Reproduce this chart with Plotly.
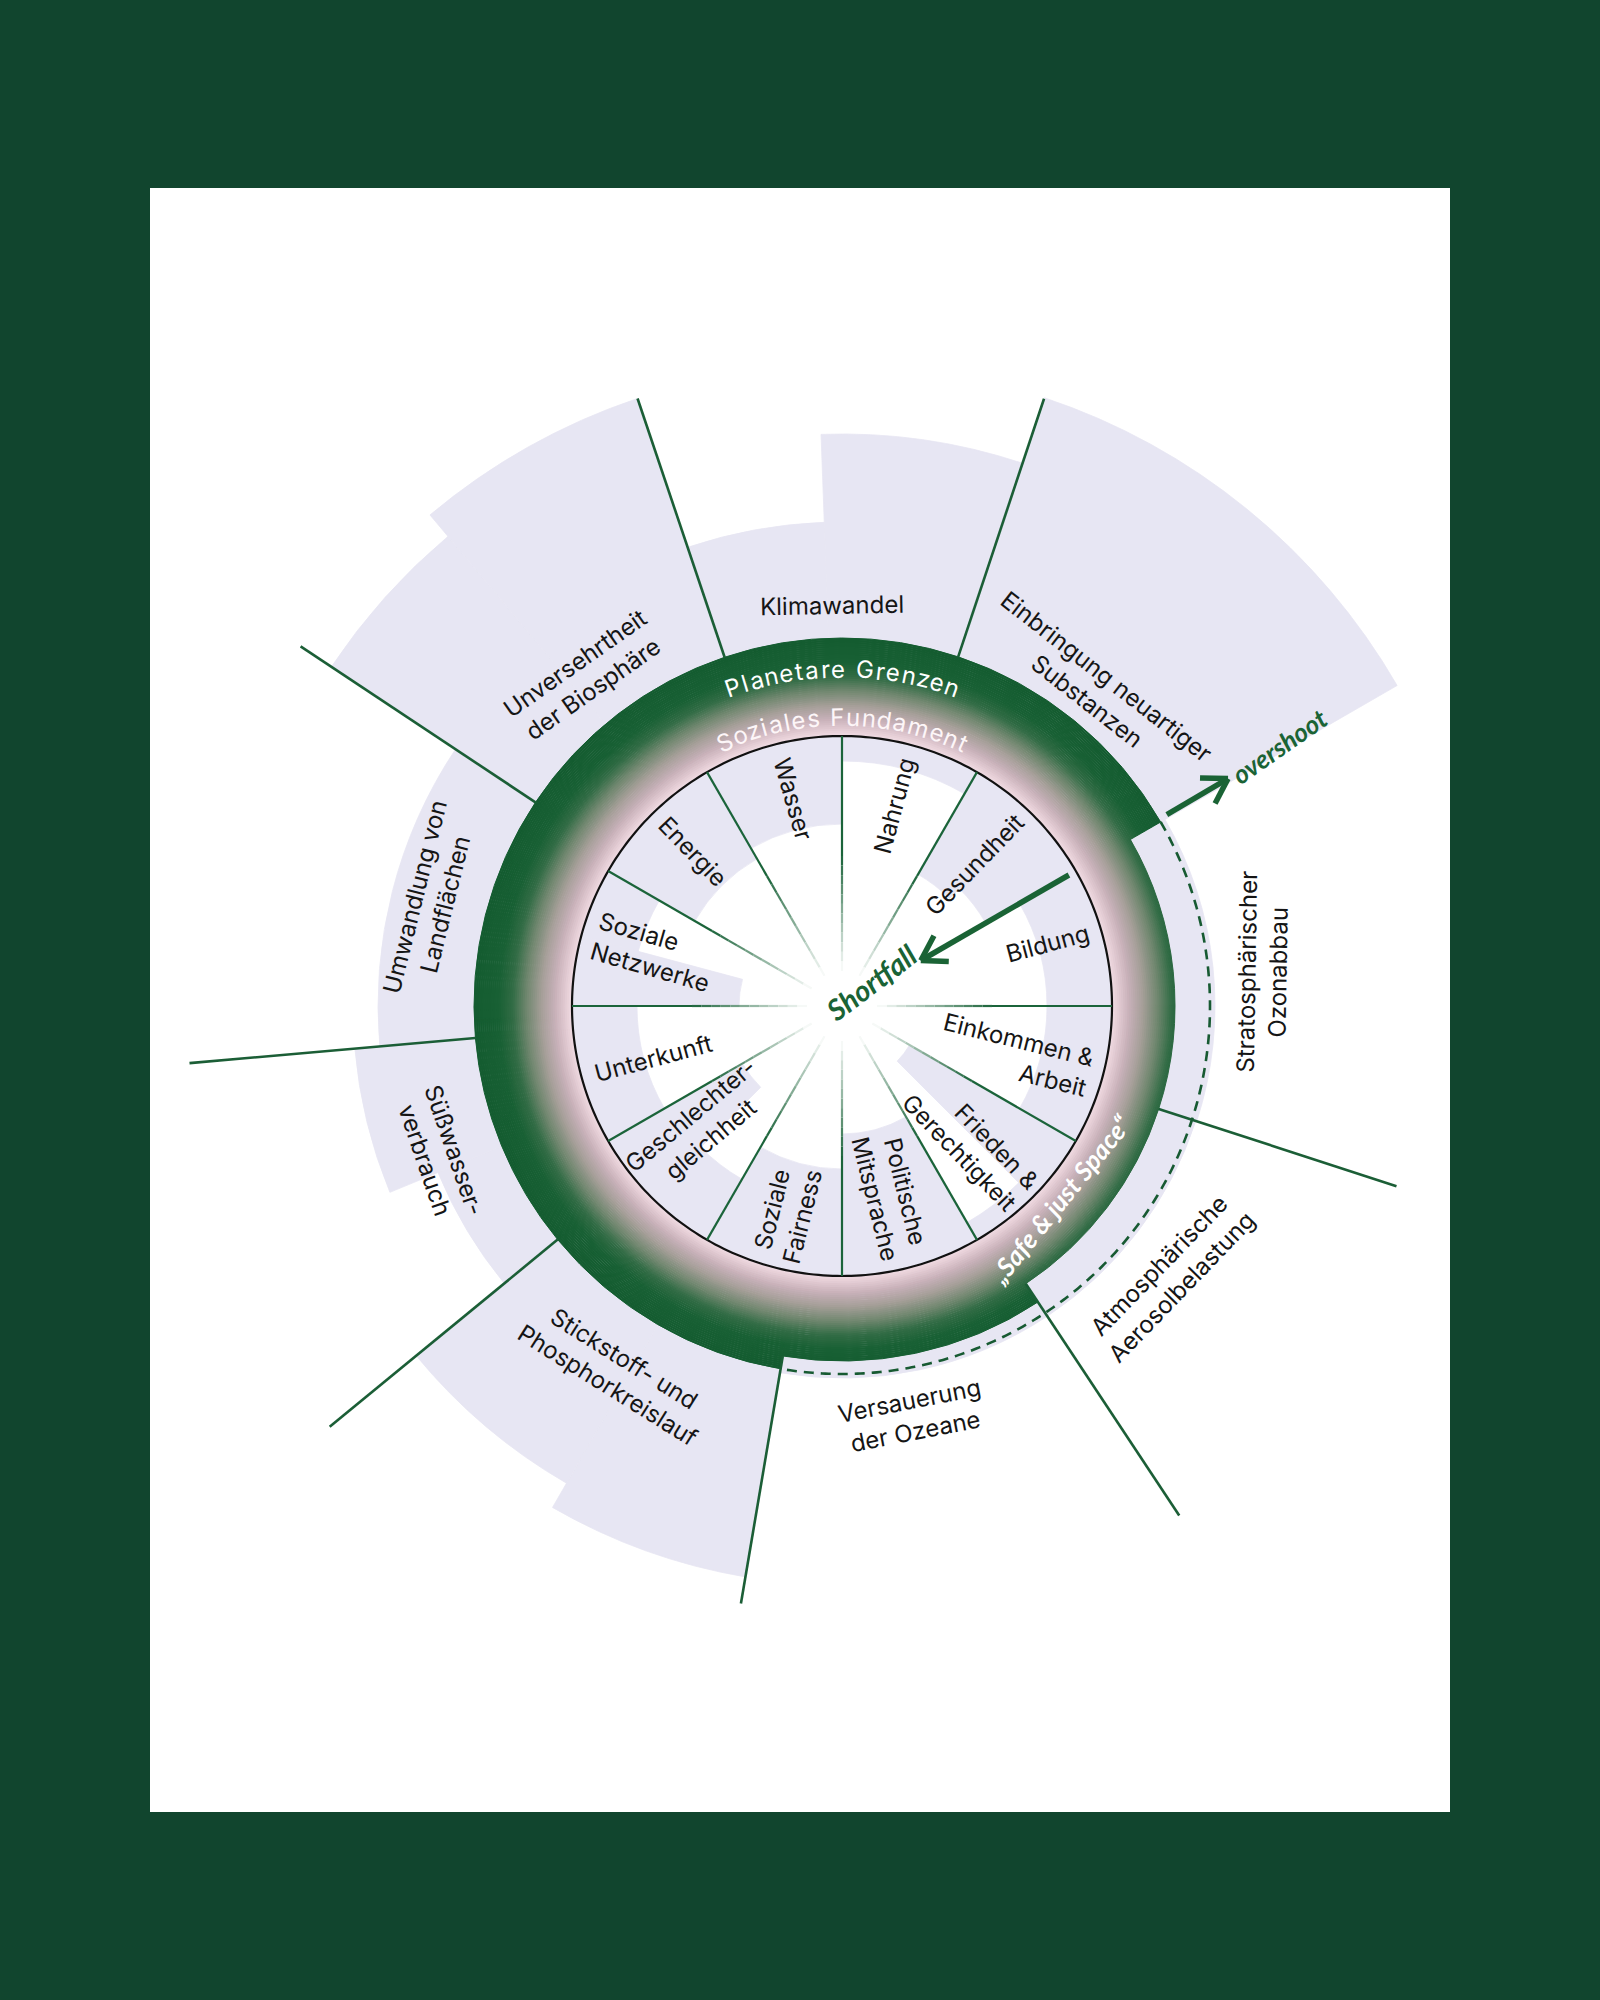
import math
import plotly.graph_objects as go

W, H = 1600, 2000
CX, CY = 842, 1006          # centre of the doughnut (px)
RMAX = 700                  # radial axis range == px radius of polar domain

BG = "#11452e"
LAV = "#e7e6f3"
LINE_GREEN = "#1b5e36"
ARROW_GREEN = "#1a6335"
FONT = "Inter"

# ---------------- data ----------------
# Planetary boundaries: sub-indicator wedges (bearing in degrees, clockwise from north)
pb_start = [-18.6, -2.1, 18.4, 60.0, 108.0, 146.5, 189.6, 210.0, 230.6, 247.6, 265.0, 303.6, 320.0]
pb_end = [-2.1, 18.4, 60.0, 108.0, 146.5, 189.6, 210.0, 230.6, 247.6, 265.0, 303.6, 320.0, 341.4]
pb_value = [484, 572, 641, 373, 372, 372, 579, 551, 437, 489, 464, 613, 641]

# Planetary segments (9 boundaries)
seg_start = [-18.6, 18.4, 60.0, 108.0, 146.5, 189.6, 230.6, 265.0, 303.6]
seg_end = [18.4, 60.0, 108.0, 146.5, 189.6, 230.6, 265.0, 303.6, 341.4]
ring_outer = [368, 368, 333, 333, 355, 368, 368, 368, 368]
pb_labels = ["Klimawandel", "Einbringung neuartiger<br>Substanzen", "Stratosphärischer<br>Ozonabbau",
             "Atmosphärische<br>Aerosolbelastung", "Versauerung<br>der Ozeane",
             "Stickstoff- und<br>Phosphorkreislauf", "Süßwasser-<br>verbrauch",
             "Umwandlung von<br>Landflächen", "Unversehrtheit<br>der Biosphäre"]
pb_label_b = [-1.4, 38.8, 85.4, 129.4, 170.3, 211.7, 249.7, 284.4, 322.0]
pb_label_r = [401, 407, 422, 425, 416, 430, 429, 425, 419]
pb_label_rot = [-1, 38, -89, -46, -11, 32, 71, -76, -35]

# Divider lines between planetary segments
div_b = [-18.6, 18.4, 108.0, 146.5, 189.6, 230.6, 265.0, 303.6]
div_r0 = [368, 368, 333, 333, 355, 368, 368, 368]
div_r1 = [641, 640, 583, 611, 606, 663, 655, 650]

# Boundary (dashed) arc where not overshot
dash_b0, dash_b1, dash_r = 60.0, 189.6, 368

# Social foundation: sub-indicator shortfall wedges (inner radius; foundation at 270)
SOC_R = 270
soc_start = [0, 30, 45, 60, 90, 120, 135, 150, 180, 210, 225, 240, 270, 285, 300, 330]
soc_end = [30, 45, 60, 90, 120, 135, 150, 180, 210, 225, 240, 270, 285, 300, 330, 360]
soc_inner = [245, 152, 166, 205, 205, 78, 250, 128, 163, 200, 115, 205, 103, 211, 170, 182]

soc_labels = ["Wasser", "Nahrung", "Gesundheit", "Bildung", "Einkommen &<br>Arbeit",
              "Frieden &<br>Gerechtigkeit", "Politische<br>Mitsprache", "Soziale<br>Fairness",
              "Geschlechter-<br>gleichheit", "Unterkunft", "Soziale<br>Netzwerke", "Energie"]
soc_label_b = [346.6, 14.8, 43.3, 73.0, 105.7, 136.5, 165.7, 194.9, 229.4, 254.6, 286.0, 316.0]
soc_label_r = [213, 207, 194, 215, 180, 187, 195, 214, 186, 196, 196, 215]
soc_label_rot = [74, -75, -46, -15, 14, 46, 76, -76, -40, -15, 16, 46]
soc_label_align = ["center", "center", "center", "center", "right", "right", "center",
                   "center", "center", "center", "left", "center"]

soc_div_b = [0, 30, 90, 120, 150, 180, 210, 240, 270, 300, 330]

# arrows: (bearing, r_start, r_tip)
overshoot_arrow = (59.5, 377, 448)
shortfall_arrow = (60.0, 262, 91)


# ---------------- helpers ----------------
def to_paper(b, r):
    a = math.radians(b)
    return (CX + r * math.sin(a)) / W, 1 - (CY - r * math.cos(a)) / H


def lerp_col(stops, r):
    if r <= stops[0][0]:
        c = stops[0][1]
    elif r >= stops[-1][0]:
        c = stops[-1][1]
    else:
        for (r0, c0), (r1, c1) in zip(stops[:-1], stops[1:]):
            if r0 <= r <= r1:
                t = (r - r0) / (r1 - r0)
                c = tuple(c0[i] + (c1[i] - c0[i]) * t for i in range(3))
                break
    return "rgb(%d,%d,%d)" % tuple(round(v) for v in c)


def cart(b, r):
    a = math.radians(b)
    return r * math.sin(a), -r * math.cos(a)


def polar(x, y):
    return math.hypot(x, y), math.degrees(math.atan2(x, -y))


def arrow_coords(b, r0, r1, arm=28, spread=32):
    sx, sy = cart(b, r0)
    tx, ty = cart(b, r1)
    ux, uy = sx - tx, sy - ty
    n = math.hypot(ux, uy)
    ux, uy = ux / n, uy / n
    rs, ts = [], []
    for x, y in [(sx, sy), (tx, ty)]:
        r, t = polar(x, y); rs.append(r); ts.append(t)
    rs.append(None); ts.append(None)
    for sgn in (1, -1):
        a = math.radians(spread * sgn)
        vx = ux * math.cos(a) - uy * math.sin(a)
        vy = ux * math.sin(a) + uy * math.cos(a)
        for x, y in [(tx + arm * vx, ty + arm * vy), (tx, ty)]:
            r, t = polar(x, y); rs.append(r); ts.append(t)
        rs.append(None); ts.append(None)
    return rs, ts


fig = go.Figure()

# planetary lavender wedges
fig.add_trace(go.Barpolar(
    theta=[(s + e) / 2 for s, e in zip(pb_start, pb_end)],
    width=[e - s for s, e in zip(pb_start, pb_end)],
    base=[SOC_R] * len(pb_value),
    r=[v - SOC_R for v in pb_value],
    marker=dict(color=LAV, line=dict(color=LAV, width=0.8)),
    hoverinfo="skip", showlegend=False))

# social shortfall wedges
fig.add_trace(go.Barpolar(
    theta=[(s + e) / 2 for s, e in zip(soc_start, soc_end)],
    width=[e - s for s, e in zip(soc_start, soc_end)],
    base=soc_inner,
    r=[SOC_R - v for v in soc_inner],
    marker=dict(color=LAV, line=dict(color=LAV, width=0.8)),
    hoverinfo="skip", showlegend=False))

# gradient ring (safe & just space)
ring_stops = [(270, (242, 223, 229)), (276, (230, 206, 214)), (288, (199, 176, 184)),
              (301, (166, 159, 153)), (316, (112, 135, 111)), (330, (50, 108, 69)),
              (344, (24, 96, 52)), (368, (20, 92, 48))]
dr = 2.0
r0 = SOC_R
while r0 < max(ring_outer):
    th, wd, rr = [], [], []
    for s, e, ro in zip(seg_start, seg_end, ring_outer):
        if r0 < ro:
            th.append((s + e) / 2); wd.append(e - s); rr.append(min(dr, ro - r0))
    c = lerp_col(ring_stops, r0 + dr / 2)
    fig.add_trace(go.Barpolar(theta=th, width=wd, base=[r0] * len(th), r=rr,
                              marker=dict(color=c, line=dict(color=c, width=1)),
                              hoverinfo="skip", showlegend=False))
    r0 += dr

# black social foundation circle
fig.add_trace(go.Scatterpolar(r=[SOC_R] * 361, theta=list(range(361)), mode="lines",
                              line=dict(color="#111111", width=2.2),
                              hoverinfo="skip", showlegend=False))

# inner divider lines, fading to white toward the centre
lg = (27, 100, 58)
steps = [(270, 150, 0.0)]
nfade = 12
for k in range(nfade):
    ra = 150 - k * (115 / nfade)
    rb = 150 - (k + 1) * (115 / nfade)
    steps.append((ra, rb, (k + 0.5) / nfade))
for ra, rb, t in steps:
    c = "rgb(%d,%d,%d)" % tuple(round(lg[i] + (255 - lg[i]) * t) for i in range(3))
    rs, ts = [], []
    for b in soc_div_b:
        rs += [ra, rb, None]; ts += [b, b, None]
    fig.add_trace(go.Scatterpolar(r=rs, theta=ts, mode="lines",
                                  line=dict(color=c, width=2.2),
                                  hoverinfo="skip", showlegend=False))

# planetary divider lines
rs, ts = [], []
for b, a, z in zip(div_b, div_r0, div_r1):
    rs += [a, z, None]; ts += [b, b, None]
fig.add_trace(go.Scatterpolar(r=rs, theta=ts, mode="lines",
                              line=dict(color=LINE_GREEN, width=2.6),
                              hoverinfo="skip", showlegend=False))

# dashed boundary arc
nb = int((dash_b1 - dash_b0) * 2) + 1
fig.add_trace(go.Scatterpolar(
    r=[dash_r] * nb, theta=[dash_b0 + i * (dash_b1 - dash_b0) / (nb - 1) for i in range(nb)],
    mode="lines", line=dict(color="#175a32", width=2.6, dash="10px,7px"),
    hoverinfo="skip", showlegend=False))

# arrows
for (b, a, z) in (overshoot_arrow, shortfall_arrow):
    rs, ts = arrow_coords(b, a, z)
    fig.add_trace(go.Scatterpolar(r=rs, theta=ts, mode="lines",
                                  line=dict(color=ARROW_GREEN, width=5.5),
                                  hoverinfo="skip", showlegend=False))

# ---------------- annotations ----------------
ann = []
for txt, b, r, rot in zip(pb_labels, pb_label_b, pb_label_r, pb_label_rot):
    x, y = to_paper(b, r)
    ann.append(dict(x=x, y=y, xref="paper", yref="paper", text=txt, showarrow=False,
                    textangle=rot, font=dict(family=FONT, size=24, color="#151515"),
                    align="center", xanchor="center", yanchor="middle"))
for txt, b, r, rot, al in zip(soc_labels, soc_label_b, soc_label_r, soc_label_rot, soc_label_align):
    x, y = to_paper(b, r)
    ann.append(dict(x=x, y=y, xref="paper", yref="paper", text=txt, showarrow=False,
                    textangle=rot, font=dict(family=FONT, size=24, color="#151515"),
                    align=al, xanchor="center", yanchor="middle"))

# curved texts
CW = {'P': .64, 'G': .74, 'S': .64, 'F': .58, 'a': .56, 'e': .56, 'n': .57, 't': .34,
      'r': .37, 'l': .25, 'i': .24, 's': .51, 'o': .58, 'z': .50, 'u': .57, 'd': .58,
      'm': .86, ' ': .30}


def arc_text(text, r, size, spacing, color):
    widths = [CW.get(c, .56) * size + spacing for c in text]
    total = sum(widths)
    s = -total / 2
    for c, w in zip(text, widths):
        mid = s + w / 2
        s += w
        if c == " ":
            continue
        b = math.degrees(mid / r)
        x, y = to_paper(b, r)
        ann.append(dict(x=x, y=y, xref="paper", yref="paper", text=c, showarrow=False,
                        textangle=b, font=dict(family=FONT, size=size, color=color),
                        xanchor="center", yanchor="middle"))


arc_text("Planetare Grenzen", 337, 24, 2.0, "#ffffff")
arc_text("Soziales Fundament", 289, 24, 2.0, "#fdf6f8")

hand = "Lato"
for txt, b, r, rot, col, size in [
        ("Shortfall", 51.3, 36.8, -37, ARROW_GREEN, 29),
        ("overshoot", 59.3, 509, -35, ARROW_GREEN, 26),
        ("„Safe & just Space“", 131.5, 291, -51, "#ffffff", 26)]:
    x, y = to_paper(b, r)
    ann.append(dict(x=x, y=y, xref="paper", yref="paper", text=txt, showarrow=False,
                    textangle=rot, font=dict(family=hand, size=size, color=col,
                                             style="italic", weight=700),
                    xanchor="center", yanchor="middle"))

fig.update_layout(
    width=W, height=H, autosize=False,
    margin=dict(l=0, r=0, t=0, b=0),
    paper_bgcolor=BG, plot_bgcolor=BG,
    shapes=[dict(type="rect", xref="paper", yref="paper", x0=150 / W, x1=1450 / W,
                 y0=1 - 1812 / H, y1=1 - 188 / H, fillcolor="#ffffff",
                 line=dict(width=0), layer="below")],
    polar=dict(
        domain=dict(x=[(CX - RMAX) / W, (CX + RMAX) / W],
                    y=[1 - (CY + RMAX) / H, 1 - (CY - RMAX) / H]),
        bgcolor="rgba(0,0,0,0)",
        barmode="overlay", bargap=0, hole=0,
        radialaxis=dict(range=[0, RMAX], visible=False, showgrid=False, showline=False,
                        showticklabels=False, ticks=""),
        angularaxis=dict(rotation=90, direction="clockwise", visible=False, showgrid=False,
                         showline=False, showticklabels=False, ticks="")),
    annotations=ann,
    showlegend=False,
)

fig.write_html("out.html", config={"displayModeBar": False},
               post_script="document.body.style.margin='0';document.body.style.background='%s';" % BG)
